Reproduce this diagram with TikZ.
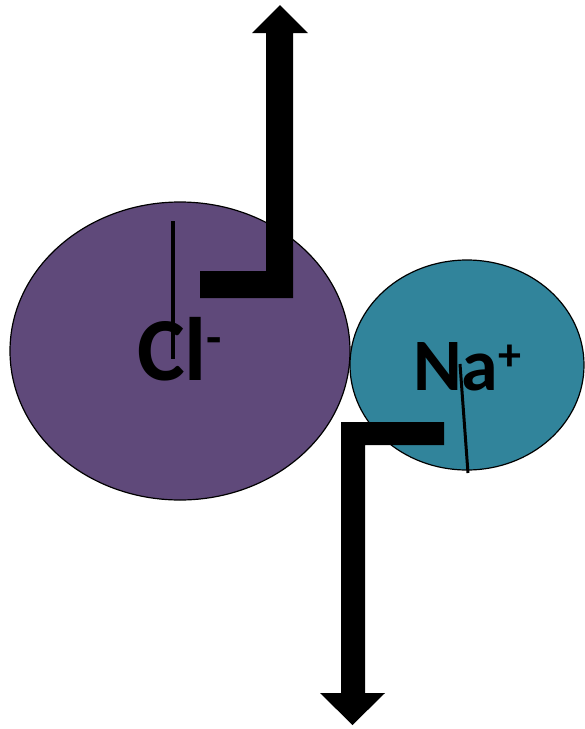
\documentclass[tikz,border=0pt]{standalone}
\usepackage{fontspec}
\setmainfont{Carlito}
\usetikzlibrary{shapes.geometric}
\definecolor{clpurple}{HTML}{5F497A}
\definecolor{nateal}{HTML}{31849B}

\begin{document}
\begin{tikzpicture}[x=1pt, y=-1pt, font=\bfseries,
    ion/.style={ellipse, draw=black, line width=1.2pt, inner sep=0pt}]
  \useasboundingbox (0,0) rectangle (585,729);
  % the two ions
  \node[ion, fill=clpurple, minimum width=340pt, minimum height=298pt] (cl) at (180,351) {};
  \node[ion, fill=nateal, minimum width=234pt, minimum height=210pt] (na) at (467,365) {};
  % thin bars inside the ions
  \coordinate (cltop) at (173,221);
  \coordinate (clbot) at (173,359);
  \draw[line width=3.5pt] (cltop) -- (clbot);
  \coordinate (natop) at (460,364);
  \coordinate (nabot) at (468,473);
  \draw[line width=3pt] (natop) -- (nabot);
  % block arrow going up from Cl-
  \fill[black] (200,271) -- (266,271) -- (266,33) -- (252,33) -- (280,5)
    -- (308,33) -- (293,33) -- (293,298) -- (200,298) -- cycle;
  % block arrow going down from Na+
  \fill[black] (444,422) -- (341,422) -- (341,693) -- (320,693) -- (352.5,725)
    -- (385,693) -- (365,693) -- (365,445) -- (444,445) -- cycle;
  % labels
  \node[anchor=base west, inner sep=0pt, font=\bfseries\fontsize{90}{90}\selectfont] (cllabel) at (137,380)
    {Cl\raisebox{26pt}{\fontsize{50}{50}\selectfont -}};
  \node[anchor=base west, inner sep=0pt, font=\bfseries\fontsize{74}{74}\selectfont] (nalabel) at (413,390)
    {Na\raisebox{20pt}{\fontsize{46}{46}\selectfont +}};
\end{tikzpicture}
\end{document}
